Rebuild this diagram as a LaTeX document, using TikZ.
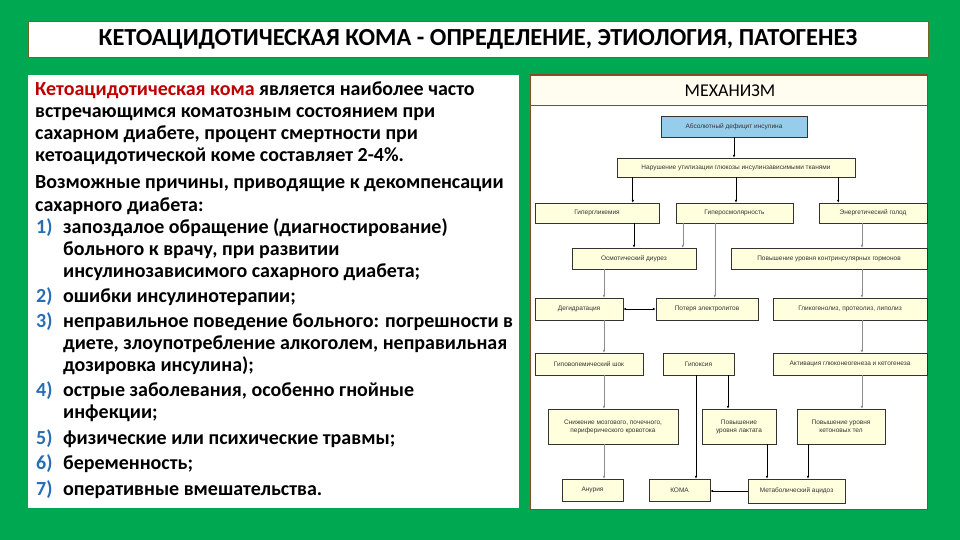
\documentclass[tikz,border=0pt]{standalone}
\usepackage{fontspec}
\setmainfont{Carlito}
\newfontfamily\flowfont{Liberation Sans}
\usetikzlibrary{arrows.meta}

\definecolor{slidegreen}{RGB}{0,168,82}
\definecolor{panelbrown}{RGB}{140,72,40}
\definecolor{boxcream}{RGB}{255,255,222}
\definecolor{boxblue}{RGB}{150,205,235}
\definecolor{headcream}{RGB}{255,252,240}
\definecolor{numblue}{RGB}{40,110,180}
\definecolor{termred}{RGB}{192,0,0}

\tikzset{
  fbox/.style={draw=black!80, fill=boxcream, inner sep=1pt, align=center,
    font=\flowfont\fontsize{6.5}{8}\selectfont, text=black!80},
  darr/.style={-{Latex[length=3pt,width=2.6pt]}, black, line width=0.8pt},
  garr/.style={-{Latex[length=3pt,width=2.6pt]}, black!45, line width=0.5pt},
  twoarr/.style={{Latex[length=3pt,width=2.6pt]}-{Latex[length=3pt,width=2.6pt]}, black, line width=0.8pt},
  txt/.style={anchor=base west, inner sep=0pt, font=\bfseries\fontsize{20}{22}\selectfont},
  num/.style={txt, text=numblue},
}

\begin{document}
\begin{tikzpicture}[x=1pt,y=-1pt]
  % slide background
  \fill[slidegreen] (0,0) rectangle (960,540);
  \useasboundingbox (0,0) rectangle (960,540);

  % title bar
  \draw[fill=white, draw=olive!70!black, line width=0.8pt] (28,21) rectangle (928,57);
  \node[font=\bfseries\fontsize{24.5}{27}\selectfont] (title) at (478,39)
    {КЕТОАЦИДОТИЧЕСКАЯ КОМА - ОПРЕДЕЛЕНИЕ, ЭТИОЛОГИЯ, ПАТОГЕНЕЗ};

  % LEFT: text panel
  \fill[white] (28,75) rectangle (519,508);
  \node[txt] (l1) at (35,96) {\textcolor{termred}{Кетоацидотическая кома} является наиболее часто};
  \node[txt] (l2) at (35,118) {встречающимся коматозным состоянием при};
  \node[txt] (l3) at (35,140) {сахарном диабете, процент смертности при};
  \node[txt] (l4) at (35,162) {кетоацидотической коме составляет 2-4\%.};
  \node[txt] (l5) at (35,189) {Возможные причины, приводящие к декомпенсации};
  \node[txt] (l6) at (35,211) {сахарного диабета:};
  \node[num] (n1) at (36,233) {1)};
  \node[txt] (l7) at (63,233) {запоздалое обращение (диагностирование)};
  \node[txt] (l8) at (63,255) {больного к врачу, при развитии};
  \node[txt] (l9) at (63,277) {инсулинозависимого сахарного диабета;};
  \node[num] (n2) at (36,302) {2)};
  \node[txt] (l10) at (63,302) {ошибки инсулинотерапии;};
  \node[num] (n3) at (36,327) {3)};
  \node[txt] (l11) at (63,327) {неправильное поведение больного: погрешности в};
  \node[txt] (l12) at (63,349) {диете, злоупотребление алкоголем, неправильная};
  \node[txt] (l13) at (63,371) {дозировка инсулина);};
  \node[num] (n4) at (36,396) {4)};
  \node[txt] (l14) at (63,396) {острые заболевания, особенно гнойные};
  \node[txt] (l15) at (63,418) {инфекции;};
  \node[num] (n5) at (36,444) {5)};
  \node[txt] (l16) at (63,444) {физические или психические травмы;};
  \node[num] (n6) at (36,469) {6)};
  \node[txt] (l17) at (63,469) {беременность;};
  \node[num] (n7) at (36,495) {7)};
  \node[txt] (l18) at (63,495) {оперативные вмешательства.};

  % RIGHT: mechanism panel
  \draw[fill=white, draw=panelbrown, line width=1pt] (530,75) rectangle (927,509);
  \draw[fill=headcream, draw=panelbrown, line width=0.6pt] (530,75) rectangle (927,105);
  \node[font=\fontsize{18}{20}\selectfont] (head) at (730,91) {МЕХАНИЗМ};

  % boxes
  \node[fbox, fill=boxblue, minimum width=146pt, minimum height=21pt] (absdef) at (734,126.5) {Абсолютный дефицит инсулина};
  \node[fbox, minimum width=238pt, minimum height=19pt] (narush) at (736,167.5) {Нарушение утилизации глюкозы инсулинзависимыми тканями};
  \node[fbox, minimum width=124pt, minimum height=20pt] (hyperg) at (597,213) {Гипергликемия};
  \node[fbox, minimum width=117pt, minimum height=20pt] (hyperosm) at (734.5,213) {Гиперосмолярность};
  \node[fbox, minimum width=108pt, minimum height=20pt] (energy) at (873,213) {Энергетический голод};
  \node[fbox, minimum width=124pt, minimum height=21pt] (osm) at (634,258.5) {Осмотический диурез};
  \node[fbox, minimum width=196pt, minimum height=21pt] (kontr) at (829,258.5) {Повышение уровня контринсулярных гормонов};
  \node[fbox, minimum width=88pt, minimum height=22pt] (degid) at (579,309) {Дегидратация};
  \node[fbox, minimum width=102pt, minimum height=22pt] (poter) at (707,309) {Потеря электролитов};
  \node[fbox, minimum width=154pt, minimum height=22pt] (glyk) at (850,309) {Гликогенолиз, протеолиз, липолиз};
  \node[fbox, minimum width=108pt, minimum height=22pt] (gipovol) at (589,364) {Гиповолемический шок};
  \node[fbox, minimum width=71pt, minimum height=22pt] (gipox) at (698.5,364) {Гипоксия};
  \node[fbox, minimum width=154pt, minimum height=22pt] (aktiv) at (850,364) {Активация глюконеогенеза и кетогенеза};
  \node[fbox, minimum width=130pt, minimum height=35pt] (snizh) at (613,426.5) {Снижение мозгового, почечного,\\периферического кровотока};
  \node[fbox, minimum width=74pt, minimum height=35pt] (laktat) at (739,426.5) {Повышение\\уровня лактата};
  \node[fbox, minimum width=88pt, minimum height=35pt] (keton) at (841,426.5) {Повышение уровня\\кетоновых тел};
  \node[fbox, minimum width=61pt, minimum height=22pt] (anur) at (592.5,490) {Анурия};
  \node[fbox, minimum width=61pt, minimum height=22pt] (koma) at (679.5,490) {КОМА};
  \node[fbox, minimum width=97pt, minimum height=24pt] (metab) at (796.5,491) {Метаболический ацидоз};

  % connectors
  \draw[darr] (absdef.south) -- (absdef.south |- narush.north);
  \draw[darr] ([xshift=16pt]narush.south west) -- ([xshift=16pt]narush.south west |- hyperg.north);
  \draw[darr] (narush.south) -- (narush.south |- hyperosm.north);
  \draw[darr] ([xshift=-17pt]narush.south east) -- ([xshift=-17pt]narush.south east |- energy.north);
  \draw[darr] (hyperg.south -| osm.north) -- (osm.north);
  \draw[garr] ([xshift=7pt]hyperosm.south west) -- ([xshift=7pt]hyperosm.south west |- osm.north);
  \draw[garr] ([xshift=39pt]hyperosm.south west) -- ([xshift=39pt]hyperosm.south west |- poter.north);
  \draw[garr] ([xshift=-11pt]energy.south) -- ([xshift=-11pt]energy.south |- kontr.north);
  \draw[garr] ([xshift=12pt]glyk.north |- kontr.south) -- ([xshift=12pt]glyk.north);
  \draw[garr] ([xshift=12pt]glyk.south) -- ([xshift=12pt]aktiv.north);
  \draw[garr] ([xshift=12pt]aktiv.south) -- ([xshift=12pt]aktiv.south |- keton.north);
  \draw[garr] ([xshift=25pt]degid.north |- osm.south) -- ([xshift=25pt]degid.north);
  \draw[twoarr] (degid.east) -- (poter.west);
  \draw[garr] ([xshift=25pt]degid.south) -- ([xshift=25pt]degid.south |- gipovol.north);
  \draw[garr] ([xshift=15pt]gipovol.south) -- ([xshift=15pt]gipovol.south |- snizh.north);
  \draw[garr] ([xshift=-9pt]snizh.south) -- ([xshift=-9pt]snizh.south |- anur.north);
  \draw[darr] ([xshift=-2.5pt]gipox.south) -- ([xshift=-2.5pt]gipox.south |- koma.north);
  \draw[darr] ([xshift=29.5pt]gipox.south) -- ([xshift=29.5pt]gipox.south |- laktat.north);
  \draw[darr] ([xshift=28pt]laktat.south) -- ([xshift=28pt]laktat.south |- metab.north);
  \draw[darr] ([xshift=-33pt]keton.south) -- ([xshift=-33pt]keton.south |- metab.north);
  \draw[darr] (metab.west) -- (metab.west -| koma.east);
\end{tikzpicture}
\end{document}
